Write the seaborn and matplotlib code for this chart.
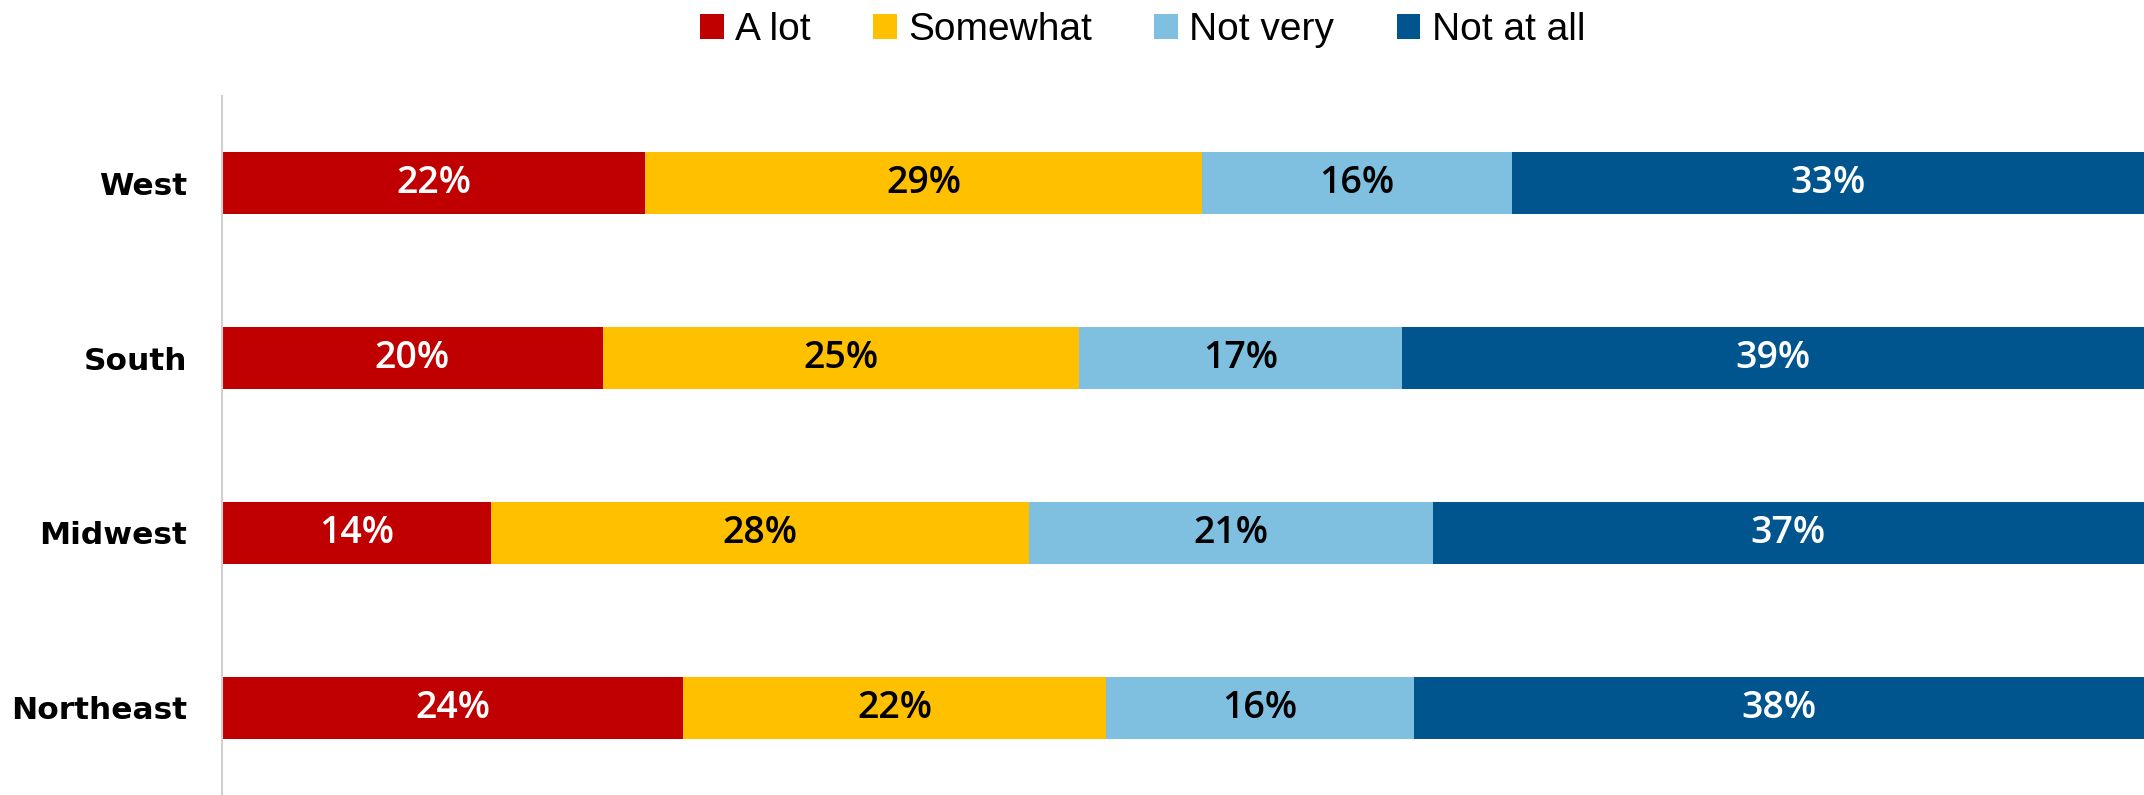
import numpy as np
import pandas as pd
import matplotlib
matplotlib.use("Agg")
import matplotlib.pyplot as plt
from matplotlib.patches import Patch
import seaborn as sns

# Data (share of respondents, %)
regions = ["West", "South", "Midwest", "Northeast"]
series = ["A lot", "Somewhat", "Not very", "Not at all"]
a_lot = [22.0, 19.8, 14.0, 24.0]
somewhat = [29.0, 24.8, 28.0, 22.0]
not_very = [16.1, 16.8, 21.0, 16.0]
not_at_all = [32.9, 38.6, 37.0, 38.0]

colors = ["#C00000", "#FFC000", "#7FBFE0", "#00558F"]
text_colors = ["white", "black", "black", "white"]

df = pd.DataFrame({"region": regions, "A lot": a_lot, "Somewhat": somewhat,
                   "Not very": not_very, "Not at all": not_at_all})
cum = df[series].cumsum(axis=1)

sns.set_style("white")
plt.rcParams["font.family"] = ["Open Sans", "DejaVu Sans"]
plt.rcParams["text.color"] = "black"
plt.rcParams["ytick.color"] = "black"

fig = plt.figure(figsize=(21.44, 7.95), dpi=100)
ax = fig.add_axes([222 / 2144, 0, 1 - 222 / 2144, 1 - 96 / 795])

# stacked bars: draw cumulative totals from the back to the front
for s, c in reversed(list(zip(series, colors))):
    sns.barplot(x=cum[s], y=df["region"], color=c, width=0.355,
                linewidth=0, saturation=1, ax=ax, orient="h")

# segment labels
for i in range(len(regions)):
    for j, s in enumerate(series):
        v = df.loc[i, s]
        mid = cum.loc[i, s] - v / 2
        ax.text(mid, i, f"{v:.0f}%", ha="center", va="center",
                fontsize=27, fontweight="semibold", color=text_colors[j])

ax.set_xlim(0, 100)
ax.set_xlabel("")
ax.set_ylabel("")
ax.set_xticks([])
ax.tick_params(axis="y", length=0, pad=25)
for lab in ax.get_yticklabels():
    lab.set_fontsize(22.5)
    lab.set_fontweight("bold")
    lab.set_family(["DejaVu Sans"])
    lab.set_color("black")
for side in ["top", "right", "bottom"]:
    ax.spines[side].set_visible(False)
ax.spines["left"].set_color("#D0D0D0")
ax.spines["left"].set_linewidth(1.5)

handles = [Patch(facecolor=c, edgecolor="none") for c in colors]
fig.legend(handles, series, loc="center", bbox_to_anchor=(0.533, 0.962),
           ncol=4, frameon=False, handlelength=0.6, handleheight=0.6,
           handletextpad=0.3, columnspacing=1.6,
           prop={"family": ["Liberation Sans", "DejaVu Sans"], "size": 28})

fig.savefig("out.png", dpi=100)
